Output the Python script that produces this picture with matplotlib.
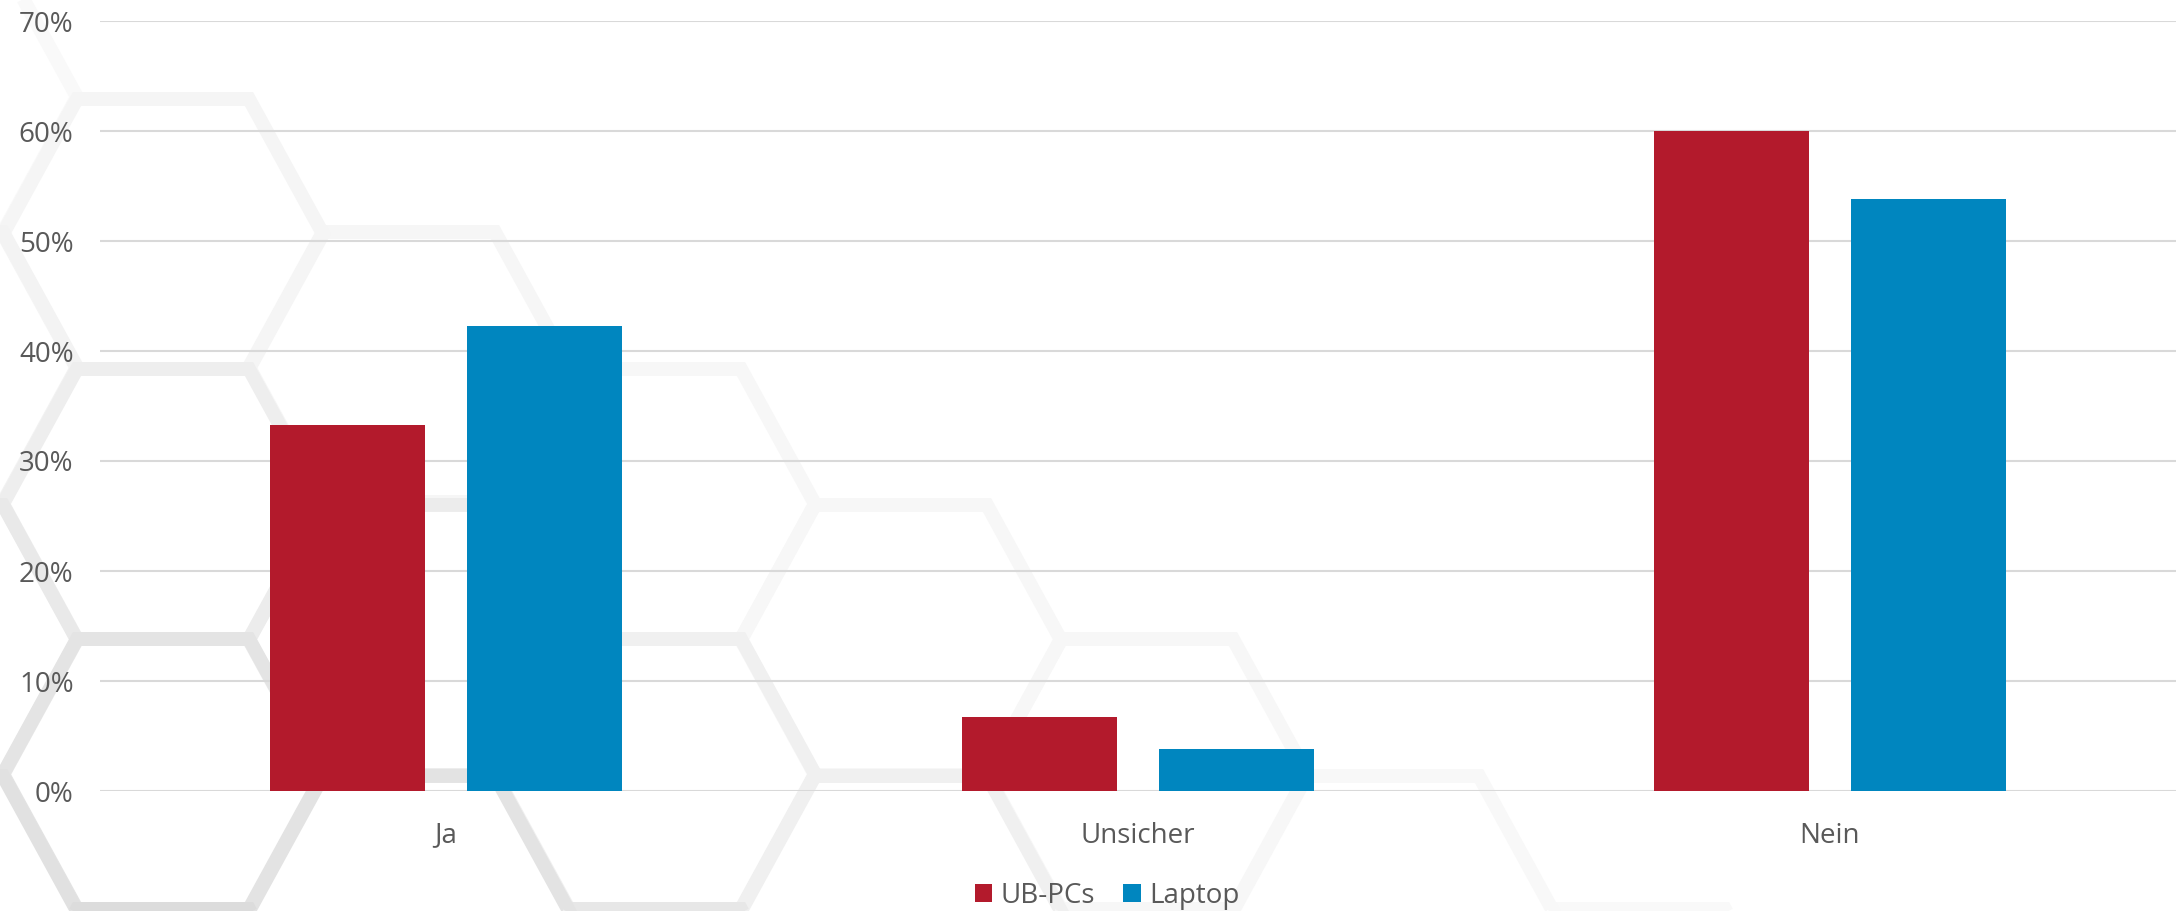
import matplotlib
matplotlib.use("Agg")
import matplotlib.pyplot as plt
from matplotlib.patches import Polygon
import numpy as np

# ---- data ----
categories = ["Ja", "Unsicher", "Nein"]
series_names = ["UB-PCs", "Laptop"]
ub_pcs = [33.3, 6.7, 60.0]
laptop = [42.3, 3.8, 53.8]
yticks = [0, 10, 20, 30, 40, 50, 60, 70]
ytick_labels = ["0%", "10%", "20%", "30%", "40%", "50%", "60%", "70%"]

# ---- style ----
RED = "#B31A2C"
BLUE = "#0086BF"
TEXT = "#595959"
GRID = "#D9D9D9"
plt.rcParams["font.family"] = ["Open Sans", "DejaVu Sans"]

W, H = 2180, 911
fig = plt.figure(figsize=(W / 100, H / 100), dpi=100)
fig.patch.set_facecolor("white")

# ---- decorative honeycomb background (pixel coords of the figure) ----
bg = fig.add_axes([0, 0, 1, 1], zorder=0)
bg.set_xlim(0, W)
bg.set_ylim(H, 0)
bg.axis("off")
hex_a, hex_r, hex_h = 86, 160, 135  # half top edge, half width, half height
# (center x, center y, darkness)
hexes = [
    (-83, 97, 6), (-83, 367, 12), (-83, 640, 22), (-83, 911, 30),
    (163, 234, 10), (163, 504, 17), (163, 774, 27), (163, 1044, 35),
    (409, 367, 9), (409, 640, 19), (409, 911, 28),
    (655, 504, 8), (655, 774, 15), (655, 1044, 24),
    (901, 640, 8), (901, 911, 15),
    (1147, 774, 8),
    (1393, 911, 7),
    (1639, 1044, 6),
]
for cx, cy, d in sorted(hexes, key=lambda t: t[2]):
    g = (255 - d) / 255.0
    pts = [(cx - hex_r, cy), (cx - hex_a, cy - hex_h), (cx + hex_a, cy - hex_h),
           (cx + hex_r, cy), (cx + hex_a, cy + hex_h), (cx - hex_a, cy + hex_h)]
    bg.add_patch(Polygon(pts, closed=True, fill=False, edgecolor=(g, g, g),
                         linewidth=10, joinstyle="miter"))

# ---- main chart ----
left, right = 100 / W, 2176 / W
bottom, top = 1 - 791 / H, 1 - 21 / H
ax = fig.add_axes([left, bottom, right - left, top - bottom], zorder=1)
ax.set_facecolor("none")

x = np.arange(len(categories))
bw = 0.224
off = 0.1423
ax.bar(x - off, ub_pcs, width=bw, color=RED, label=series_names[0], zorder=3)
ax.bar(x + off, laptop, width=bw, color=BLUE, label=series_names[1], zorder=3)

ax.set_xlim(-0.5, len(categories) - 0.5)
ax.set_ylim(0, 70)
ax.set_yticks(yticks)
ax.set_yticklabels(ytick_labels)
ax.set_xticks(x)
ax.set_xticklabels(categories)
ax.yaxis.grid(True, color=GRID, linewidth=1.5, zorder=0)
ax.set_axisbelow(True)
for s in ax.spines.values():
    s.set_visible(False)
ax.tick_params(axis="both", length=0, colors=TEXT, labelsize=20)
ax.tick_params(axis="y", pad=19)
ax.tick_params(axis="x", pad=22)

fig.legend(loc="center", bbox_to_anchor=(1107 / W, 1 - 896 / H), ncol=2,
           frameon=False, fontsize=20, labelcolor=TEXT,
           handlelength=0.64, handleheight=0.64, handletextpad=0.3,
           columnspacing=1.0, borderpad=0)

fig.savefig("out.png", dpi=100, facecolor="white")
